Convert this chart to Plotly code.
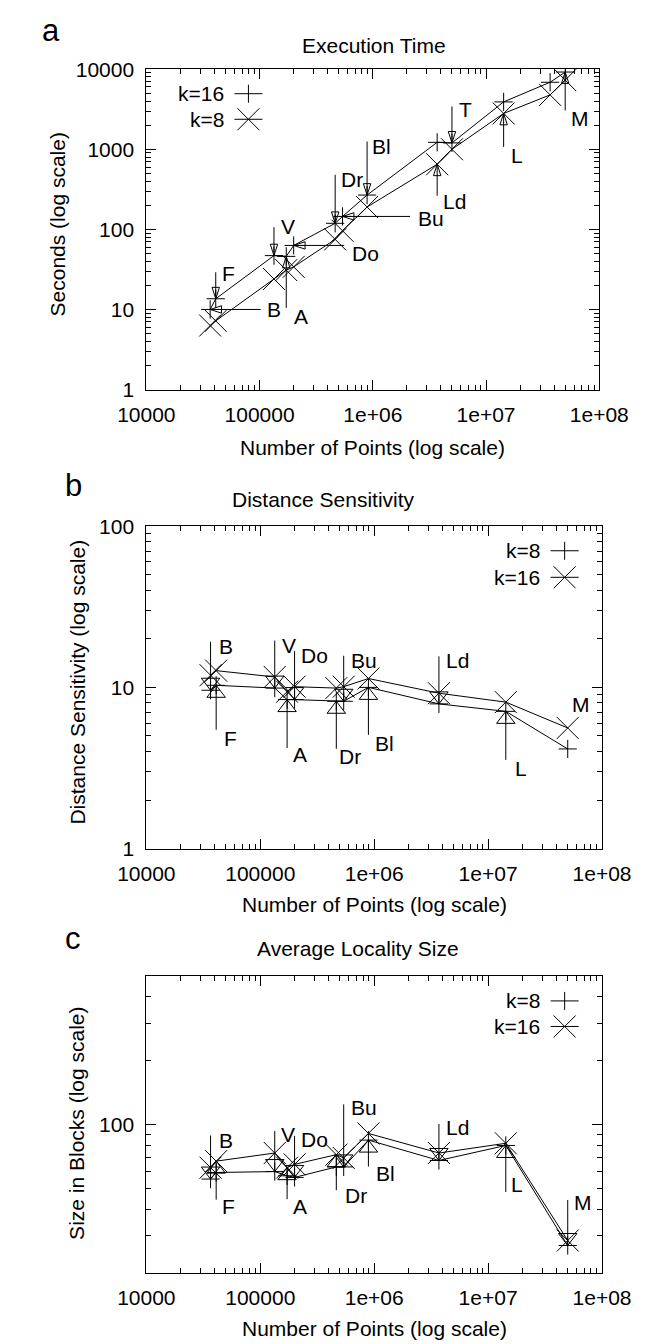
import plotly.graph_objects as go
import math

W, H = 654, 1344
FONT = "Liberation Sans, Arial, Helvetica, sans-serif"

# ---------------- data ----------------
datasets = ["B", "F", "V", "A", "Do", "Dr", "Bu", "Bl", "Ld", "T", "L", "", "M"]
num_points = [36600, 41000, 134000, 172000, 200000, 465000, 540000, 890000,
              3700000, 5000000, 14300000, 36800000, 50000000]

# (a) Execution time, seconds
time_k16 = [10, 13.6, 47, 46, 63, 119, 145, 268, 1220, 1200, 3900, 6860, 9200]
time_k8 = [6.3, 7.2, 24, 31, 34, 75, 96, 190, 650, 1000, 2800, 4770, 7300]

# (b) Distance sensitivity
dist_k8 = [9.6, 10.3, 9.9, 8.4, 8.4, 8.2, 8.2, 10.0, 7.9, None, 7.1, None, 4.15]
dist_k16 = [11.9, 12.7, 11.6, 9.4, 10.1, 9.9, 10.1, 11.35, 9.2, None, 8.1, None, 5.6]

# (c) Average locality size, blocks
size_k8 = [55.5, 59.6, 60.2, 57.5, 56.5, 63.3, 63.3, 84.7, 67.9, None, 79.9, None, 27.0]
size_k16 = [62.8, 67.4, 73.6, 62.8, 65.1, 72.3, 69.8, 91.0, 73.6, None, 81.8, None, 28.5]

x_tickvals = [1e4, 1e5, 1e6, 1e7, 1e8]
x_ticktext = ["10000", "100000", "1e+06", "1e+07", "1e+08"]
x_title = "Number of Points (log scale)"

# ---------------- layout / style (pixels) ----------------
panels = [
    dict(key="a", letter="a", letter_xy=(15, 11), title="Execution Time", title_xy=(370, 26),
         ytitle="Seconds (log scale)", ytitle_xy=(22, 208), xtitle_y=435,
         left=120, right=617, top=50, bottom=376,
         yrange=[1, 10000], yticks=[1, 10, 100, 1000, 10000],
         series=[("k=16", time_k16, "+"), ("k=8", time_k8, "x")],
         legend=dict(text_right=207, y=[75, 101]),
         head=dict(symbol="arrow-open", size=12, standoff=0)),
    dict(key="b", letter="b", letter_xy=(40, 474), title="Distance Sensitivity", title_xy=(314, 488),
         ytitle="Distance Sensitivity (log scale)", ytitle_xy=(44, 674), xtitle_y=900,
         left=120, right=620, top=515, bottom=843,
         yrange=[1, 100], yticks=[1, 10, 100],
         series=[("k=8", dist_k8, "+"), ("k=16", dist_k16, "x")],
         legend=dict(text_right=554, y=[540, 567]),
         head=dict(symbol="triangle-up-open", size=16, standoff=8)),
    dict(key="c", letter="c", letter_xy=(40, 934), title="Average Locality Size", title_xy=(352, 945),
         ytitle="Size in Blocks (log scale)", ytitle_xy=(44, 1123), xtitle_y=1331,
         left=120, right=620, top=973, bottom=1275,
         yrange=[20, 500], yticks=[100],
         series=[("k=8", size_k8, "+"), ("k=16", size_k16, "x")],
         legend=dict(text_right=554, y=[998, 1024]),
         head=dict(symbol="triangle-up-open", size=16, standoff=8)),
]

# arrow annotations: (label, series index, tail_dx, tail_dy, label_dx, label_dy, draw_arrow)
arrows = {
    "a": [("F", 0, 0, -28, 4, -25, True), ("B", 0, 52, 0, 55, 0, True),
          ("V", 0, 0, -30, 5, -29, True), ("A", 0, 0, 53, 6, 60, True),
          ("Do", 0, 52, 0, 56, 8, True), ("Dr", 0, 0, -50, 4, -44, True),
          ("Bu", 0, 69, 0, 73, 2, True), ("Bl", 0, 0, -55, 3, -49, True),
          ("Ld", 1, 0, 33, 4, 37, True), ("T", 0, 0, -38, 5, -33, True),
          ("L", 1, 0, 35, 5, 42, True), ("M", 0, 0, 40, 4, 46, True)],
    "b": [("B", 0, 0, -50, 6, -44, True), ("F", 0, 0, 46, 6, 53, True),
          ("V", 0, 0, -49, 5, -43, True), ("A", 0, 0, 50, 4, 55, True),
          ("Do", 0, 0, -50, 4, -44, True), ("Dr", 0, 0, 49, 1, 55, True),
          ("Bu", 0, 0, -47, 5, -41, True), ("Bl", 0, 0, 49, 5, 56, True),
          ("Ld", 0, 0, -49, 5, -43, True), ("L", 0, 0, 50, 7, 57, True),
          ("M", 1, 0, 0, 2, -23, False)],
    "c": [("B", 0, 0, -45, 6, -39, True), ("F", 1, 0, 40, 4, 45, True),
          ("V", 0, 0, -42, 4, -37, True), ("A", 1, 0, 33, 4, 39, True),
          ("Do", 0, 0, -43, 4, -38, True), ("Dr", 1, 0, 37, 7, 41, True),
          ("Bu", 0, 0, -64, 5, -59, True), ("Bl", 0, 0, 28, 6, 33, True),
          ("Ld", 0, 0, -38, 5, -33, True), ("L", 0, 0, 48, 3, 39, True),
          ("M", 0, 0, -47, 4, -43, True)],
}

FS = 21
fig = go.Figure()
annotations = []
shapes = []


def pxx(px):
    return px / W


def pxy(py):
    return 1 - py / H


def text_ann(text, x, y, size=FS, angle=0, xanchor="center"):
    return dict(text=text, xref="paper", yref="paper", x=pxx(x), y=pxy(y),
                xanchor=xanchor, yanchor="middle", showarrow=False, textangle=angle,
                font=dict(family=FONT, size=size, color="black"))


minor_x = [m * 10 ** e for e in range(4, 8) for m in range(2, 10)]

for i, p in enumerate(panels):
    n = "" if i == 0 else str(i + 1)
    xa, ya = "x" + n, "y" + n
    for name, vals, sym in p["series"]:
        fig.add_trace(go.Scatter(
            x=num_points, y=vals, name=name, xaxis=xa, yaxis=ya,
            mode="lines+markers", connectgaps=True, showlegend=False,
            line=dict(color="black", width=1),
            marker=dict(symbol="cross-thin" if sym == "+" else "x-thin",
                        size=13 if sym == "+" else 22,
                        line=dict(color="black", width=1), color="black"),
        ))
    lo, hi = p["yrange"]
    e0, e1 = int(math.floor(math.log10(lo))), int(math.ceil(math.log10(hi)))
    minor_y = [m * 10 ** e for e in range(e0, e1) for m in range(2, 10)
               if lo <= m * 10 ** e <= hi]
    axis_common = dict(type="log", showline=True, linecolor="black", linewidth=1,
                       mirror="allticks", ticks="inside", ticklen=10, tickwidth=1,
                       tickcolor="black", showgrid=False, zeroline=False,
                       tickfont=dict(family=FONT, size=FS, color="black"))
    fig.update_layout(**{
        ("xaxis" + n): dict(axis_common, domain=[pxx(p["left"]), pxx(p["right"])],
                           range=[4, 8], anchor=ya, tickvals=x_tickvals, ticktext=x_ticktext,
                           minor=dict(tickvals=minor_x, ticks="inside", ticklen=5,
                                      tickcolor="black", tickwidth=1),
                           ticklabelstandoff=6),
        ("yaxis" + n): dict(axis_common, domain=[pxy(p["bottom"]), pxy(p["top"])],
                           range=[math.log10(lo), math.log10(hi)], anchor=xa,
                           tickvals=p["yticks"], ticktext=[str(v) for v in p["yticks"]],
                           minor=dict(tickvals=minor_y, ticks="inside", ticklen=5,
                                      tickcolor="black", tickwidth=1),
                           ticklabelstandoff=7),
    })
    # panel letter, title, axis titles
    annotations.append(text_ann(p["letter"], *p["letter_xy"], size=31))
    annotations.append(text_ann(p["title"], *p["title_xy"]))
    annotations.append(text_ann(p["ytitle"], *p["ytitle_xy"], angle=-90))
    annotations.append(text_ann(x_title, (p["left"] + p["right"]) / 2, p["xtitle_y"]))
    # legend (gnuplot style: text then sample)
    lg = p["legend"]
    for (name, vals, sym), ly in zip(p["series"], lg["y"]):
        annotations.append(text_ann(name, lg["text_right"], ly, xanchor="right"))
        cx = lg["text_right"] + 25
        base = dict(type="line", xref="paper", yref="paper", xsizemode="pixel", ysizemode="pixel",
                    xanchor=pxx(cx), yanchor=pxy(ly), line=dict(color="black", width=1))
        shapes.append(dict(base, x0=-14, x1=14, y0=0, y1=0))
        if sym == "+":
            shapes.append(dict(base, x0=0, x1=0, y0=-9, y1=9))
        else:
            shapes.append(dict(base, x0=-11, x1=11, y0=-11, y1=11))
            shapes.append(dict(base, x0=-11, x1=11, y0=11, y1=-11))
    # labels with arrows (gnuplot-like open arrow heads drawn as rotated markers)
    hx, hy, hang = [], [], []
    for lab, si, tdx, tdy, ldx, ldy, draw in arrows[p["key"]]:
        idx = datasets.index(lab)
        vals = p["series"][si][1]
        xv, yv = num_points[idx], vals[idx]
        if draw:
            annotations.append(dict(text="", xref=xa, yref=ya, x=math.log10(xv), y=math.log10(yv),
                                    ax=tdx, ay=tdy, axref="pixel", ayref="pixel", showarrow=True,
                                    arrowhead=0, arrowwidth=1, arrowcolor="black", standoff=0))
            hx.append(xv)
            hy.append(yv)
            # head points from tail towards target
            hang.append(math.degrees(math.atan2(-tdx, tdy)) if (tdx or tdy) else 0)
        annotations.append(dict(text=lab, xref=xa, yref=ya, x=math.log10(xv), y=math.log10(yv),
                                xshift=ldx, yshift=-ldy, xanchor="left", yanchor="middle",
                                showarrow=False, font=dict(family=FONT, size=FS, color="black")))
    hd = p["head"]
    fig.add_trace(go.Scatter(
        x=hx, y=hy, xaxis=xa, yaxis=ya, mode="markers", showlegend=False, hoverinfo="skip",
        marker=dict(symbol=hd["symbol"], size=hd["size"], angle=hang, standoff=hd["standoff"],
                    color="black", line=dict(color="black", width=1)),
    ))

fig.update_layout(width=W, height=H, margin=dict(l=0, r=0, t=0, b=0),
                  paper_bgcolor="white", plot_bgcolor="white",
                  annotations=annotations, shapes=shapes, showlegend=False)
fig.write_html("out.html")
